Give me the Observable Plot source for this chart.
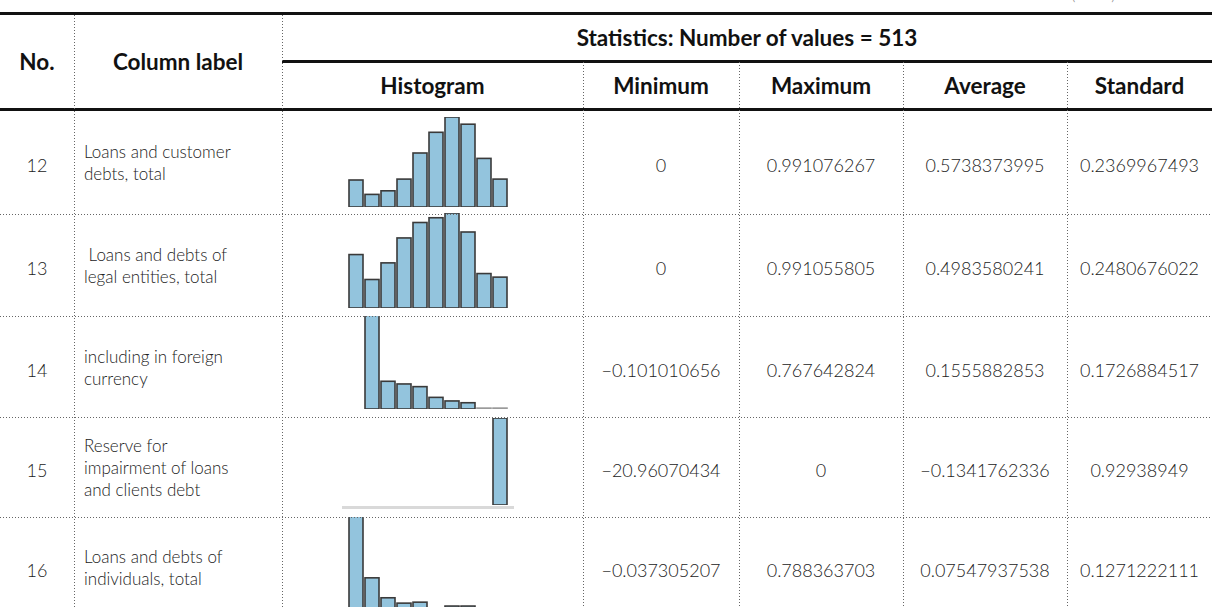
<!DOCTYPE html>
<html><head><meta charset="utf-8">
<script src="https://cdn.jsdelivr.net/npm/d3@7"></script>
<script src="https://cdn.jsdelivr.net/npm/@observablehq/plot@0.6"></script>
<style>
html,body{margin:0;padding:0;background:#fff;overflow:hidden}
#page{position:relative;width:1212px;height:607px;overflow:hidden;font-family:Lato,"Open Sans",sans-serif}
.cell{position:absolute;display:flex;align-items:center;justify-content:center;box-sizing:border-box;white-space:nowrap}
.hd{font-weight:700;color:#111;font-size:22.5px}
.num{font-weight:300;color:#222;font-size:18px;padding-top:6px}
.lbl{font-weight:300;color:#222;font-size:17px;justify-content:flex-start;padding-left:10px;line-height:22px;white-space:pre;padding-top:2px}
.hline{position:absolute;background:#111}
.vdot{position:absolute;width:1px;background:repeating-linear-gradient(to bottom,#666 0 1px,transparent 1px 3px)}
.hdot{position:absolute;height:1px;background:repeating-linear-gradient(to right,#666 0 1px,transparent 1px 3px)}
.hist{position:absolute}
.cont{position:absolute;left:1071px;top:-17px;font-size:17px;color:#888;font-weight:300}
</style></head><body><div id="page"></div>
<script>
// ---- data ----
const headerTop = "Statistics: Number of values = 513";
const headerLeft = ["No.", "Column label"];
const headerStats = ["Histogram", "Minimum", "Maximum", "Average", "Standard"];
const rowNumbers = ["12", "13", "14", "15", "16"];
const columnLabels = [
  "Loans and customer\ndebts, total",
  " Loans and debts of\nlegal entities, total",
  "including in foreign\ncurrency",
  "Reserve for\nimpairment of loans\nand clients debt",
  "Loans and debts of\nindividuals, total"
];
const minimums = ["0", "0", "\u22120.101010656", "\u221220.96070434", "\u22120.037305207"];
const maximums = ["0.991076267", "0.991055805", "0.767642824", "0", "0.788363703"];
const averages = ["0.5738373995", "0.4983580241", "0.1555882853", "\u22120.1341762336", "0.07547937538"];
const standards = ["0.2369967493", "0.2480676022", "0.1726884517", "0.92938949", "0.1271222111"];
const bins = [1, 2, 3, 4, 5, 6, 7, 8, 9, 10];
const hist12 = [30, 14, 18, 31, 60, 83, 100, 92, 54, 31];
const hist13 = [45, 24, 38, 59, 72, 76, 80, 64, 29, 26];
const hist14 = [0, 400, 31, 28, 25, 13, 9, 7, 1, 1];
const hist15 = [0, 0, 0, 0, 0, 0, 0, 0, 0, 513];
const hist16 = [400, 62, 21, 10, 12, 0, 4, 4, 0, 0];
const histograms = [hist12, hist13, hist14, hist15, hist16];

// ---- layout ----
const colEdges = [0, 74, 282, 583, 739, 903, 1067, 1212];
const rowEdges = [110, 214, 316, 417, 517, 617];
const histBox = [
  {top: 117, base: 207, yMax: 100},
  {top: 213, base: 308, yMax: 80},
  {top: 316, base: 409, yMax: 104},
  {top: 418, base: 505, yMax: 513, baseline: true},
  {top: 517, base: 608, yMax: 187}
];

const page = document.getElementById("page");
function el(cls, css, text) {
  const d = document.createElement("div");
  d.className = cls;
  Object.assign(d.style, css);
  if (text != null) d.textContent = text;
  page.appendChild(d);
  return d;
}
const px = v => v + "px";
function cell(cls, c0, c1, y0, y1, text) {
  return el("cell " + cls, {left: px(colEdges[c0]), width: px(colEdges[c1] - colEdges[c0]), top: px(y0), height: px(y1 - y0)}, text);
}

el("cont", {}, "(cont.)");

// headers
cell("hd", 0, 1, 13, 110, headerLeft[0]);
cell("hd", 1, 2, 13, 110, headerLeft[1]);
cell("hd", 2, 7, 13, 61, headerTop);
headerStats.forEach((h, i) => cell("hd", 2 + i, 3 + i, 61, 110, h));

// body
rowNumbers.forEach((n, r) => {
  const y0 = rowEdges[r], y1 = rowEdges[r + 1];
  cell("num", 0, 1, y0, y1, n);
  cell("lbl", 1, 2, y0, y1, columnLabels[r]);
  cell("num", 3, 4, y0, y1, minimums[r]);
  cell("num", 4, 5, y0, y1, maximums[r]);
  cell("num", 5, 6, y0, y1, averages[r]);
  cell("num", 6, 7, y0, y1, standards[r]);
});

// histograms
histograms.forEach((counts, r) => {
  const box = histBox[r];
  const data = bins.map((b, i) => ({bin: b, count: counts[i]})).filter(d => d.count > 0);
  const h = box.base - box.top;
  const marks = [];
  if (box.baseline) marks.push(Plot.ruleY([0], {stroke: "#d9d9d9", strokeWidth: 3, dy: 2}));
  marks.push(Plot.barY(data, {
    x: "bin", y: "count", fill: "#93c4dd",
    stroke: d => d.count <= 2 ? "#9a9a9a" : "#3a3a3a",
    strokeWidth: 1.6, clip: true
  }));
  const svg = Plot.plot({
    width: 172, height: h,
    marginTop: 0, marginBottom: 0, marginLeft: 0, marginRight: 0,
    x: {type: "band", domain: bins, padding: 0.15, axis: null},
    y: {domain: [0, box.yMax], axis: null},
    color: {type: "identity"},
    style: {background: "transparent", overflow: "visible"},
    marks
  });
  const wrap = el("hist", {left: px(342), top: px(box.top)});
  wrap.appendChild(svg);
});

// lines
el("hline", {left: "0px", top: "12px", width: "1212px", height: "3px"});
el("hline", {left: "282px", top: "60px", width: "930px", height: "2.5px"});
el("hline", {left: "0px", top: "108px", width: "1212px", height: "3px"});
rowEdges.slice(1, 5).forEach(y => el("hdot", {left: "0px", top: px(y), width: "1212px"}));
[74, 282].forEach(x => el("vdot", {left: px(x), top: "15px", height: "600px"}));
[583, 739, 903, 1067].forEach(x => el("vdot", {left: px(x), top: "62px", height: "560px"}));
</script>
</body></html>
